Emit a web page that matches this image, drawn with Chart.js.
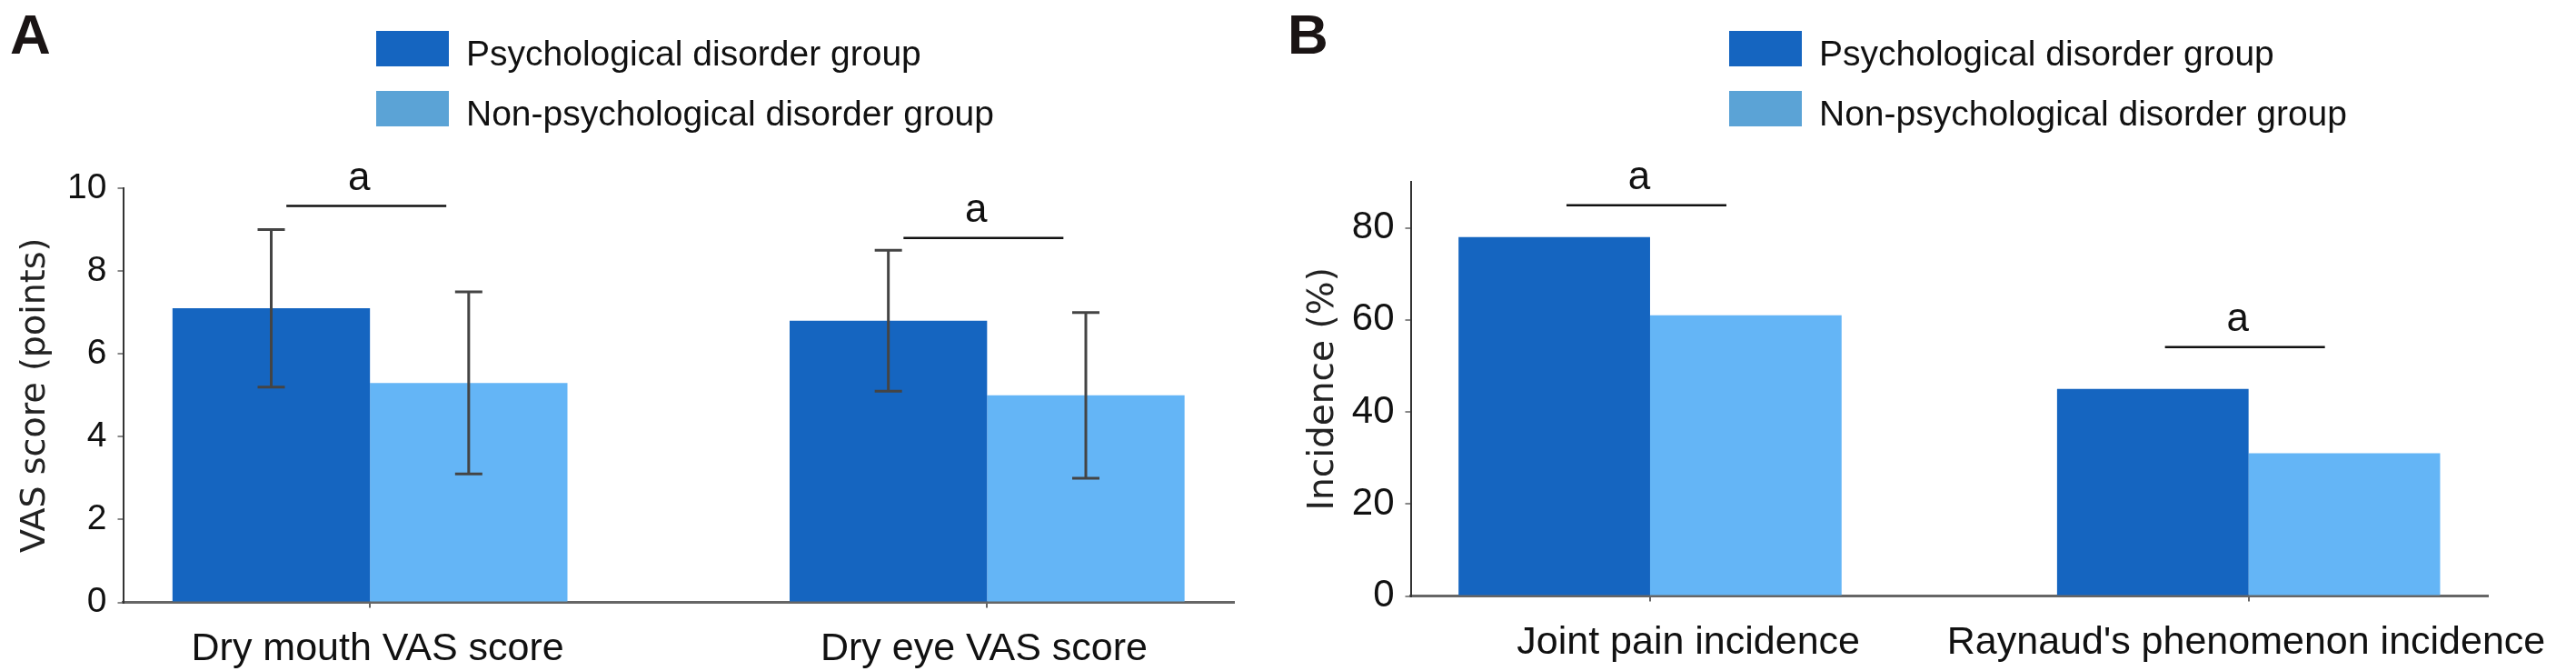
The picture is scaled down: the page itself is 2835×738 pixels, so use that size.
<!DOCTYPE html>
<html>
<head>
<meta charset="utf-8">
<script src="https://cdn.jsdelivr.net/npm/chart.js@4.4.0/dist/chart.umd.min.js"></script>
<style>
  html, body { margin: 0; padding: 0; background: #fff; overflow: hidden; }
  #wrap { position: relative; width: 2835px; height: 738px; }
  canvas { position: absolute; top: 0; }
</style>
</head>
<body>
<div id="wrap">
  <canvas id="chartA" width="1417" height="738" style="left:0"></canvas>
  <canvas id="chartB" width="1418" height="738" style="left:1417px"></canvas>
</div>
<script>
// series names
const seriesNames = ['Psychological disorder group', 'Non-psychological disorder group'];

// panel A - VAS scores (mean +/- sd)
const categoriesA = ['Dry mouth VAS score', 'Dry eye VAS score'];
const psychA = [7.1, 6.8];
const nonPsychA = [5.3, 5.0];
const psychHighA = [9.0, 8.5];
const psychLowA = [5.2, 5.1];
const nonPsychHighA = [7.5, 7.0];
const nonPsychLowA = [3.1, 3.0];
const sigLevelA = [9.57, 8.8];
const yTicksA = [0, 2, 4, 6, 8, 10];

// panel B - incidence (%)
const categoriesB = ['Joint pain incidence', "Raynaud's phenomenon incidence"];
const psychB = [78, 45];
const nonPsychB = [61, 31];
const sigLevelB = [84.9, 54.1];
const yTicksB = [0, 20, 40, 60, 80];

const darkBlue = '#1565C0';
const lightBlue = '#64B5F6';
const legendColors = ['#1565C0', '#5BA3D6'];

Chart.defaults.font.family = '"Liberation Sans", Arial, sans-serif';
Chart.defaults.color = '#111';

function makePanel(id, cfg) {
  // legend, panel letter, error bars and significance marks
  const deco = {
    id: 'deco' + id,
    afterDatasetsDraw(chart) {
      const ctx = chart.ctx;
      const y = chart.scales.y;
      const x = chart.scales.x;
      ctx.save();
      // error bars
      if (cfg.errors) {
        cfg.errors.forEach((err, d) => {
          const meta = chart.getDatasetMeta(d);
          meta.data.forEach((bar, i) => {
            const top = y.getPixelForValue(err.high[i]);
            const bot = y.getPixelForValue(err.low[i]);
            ctx.strokeStyle = '#444';
            ctx.lineWidth = 3;
            ctx.beginPath();
            ctx.moveTo(bar.x, top);
            ctx.lineTo(bar.x, bot);
            ctx.moveTo(bar.x - 15, top);
            ctx.lineTo(bar.x + 15, top);
            ctx.moveTo(bar.x - 15, bot);
            ctx.lineTo(bar.x + 15, bot);
            ctx.stroke();
          });
        });
      }
      // significance marks
      cfg.sig.forEach((lvl, i) => {
        const cx = x.getPixelForValue(i + 1) - 4;
        const yy = y.getPixelForValue(lvl);
        ctx.strokeStyle = '#111';
        ctx.lineWidth = 2.5;
        ctx.beginPath();
        ctx.moveTo(cx - 88, yy);
        ctx.lineTo(cx + 88, yy);
        ctx.stroke();
        ctx.fillStyle = '#111';
        ctx.font = '44px "Liberation Sans", Arial, sans-serif';
        ctx.textAlign = 'center';
        ctx.textBaseline = 'alphabetic';
        ctx.fillText('a', cx - 8, yy - 18);
      });
      ctx.restore();
    },
    afterDraw(chart) {
      const ctx = chart.ctx;
      ctx.save();
      // panel letter
      ctx.fillStyle = '#1a1414';
      ctx.font = 'bold 62px "Liberation Sans", Arial, sans-serif';
      ctx.textAlign = 'left';
      ctx.textBaseline = 'alphabetic';
      ctx.fillText(cfg.letter, cfg.letterX, 59);
      // legend
      ctx.font = '39px "Liberation Sans", Arial, sans-serif';
      chart.data.datasets.forEach((ds, d) => {
        const top = 34 + d * 66;
        ctx.fillStyle = legendColors[d];
        ctx.fillRect(cfg.legendX, top, 80, 39);
        ctx.fillStyle = '#111';
        ctx.fillText(ds.label, cfg.legendX + 99, top + 38);
      });
      ctx.restore();
    }
  };

  return new Chart(document.getElementById(id), {
    type: 'bar',
    data: {
      datasets: [
        {
          label: seriesNames[0],
          data: cfg.psych.map((v, i) => ({ x: i + 1, y: v })),
          backgroundColor: darkBlue,
          borderWidth: 0
        },
        {
          label: seriesNames[1],
          data: cfg.nonPsych.map((v, i) => ({ x: i + 1, y: v })),
          backgroundColor: lightBlue,
          borderWidth: 0
        }
      ]
    },
    options: {
      responsive: false,
      animation: false,
      devicePixelRatio: 1,
      categoryPercentage: 0.64,
      barPercentage: 1.0,
      layout: { padding: { top: cfg.top, right: cfg.right, bottom: 0, left: 0 } },
      plugins: {
        legend: { display: false },
        tooltip: { enabled: false }
      },
      scales: {
        // axis line and tick marks at group centres
        x: {
          type: 'linear',
          position: 'bottom',
          min: 0.6,
          max: 2.4,
          offset: false,
          bounds: 'data',
          afterBuildTicks: (scale) => {
            scale.ticks = cfg.categories.map((c, i) => ({ value: i + 1 }));
          },
          afterFit: (scale) => { scale.height = 6; },
          ticks: { display: false },
          grid: { offset: false, drawOnChartArea: false, tickLength: 6, color: '#666', lineWidth: 2 },
          border: { color: '#666', width: 3 }
        },
        // category labels, nudged like the original
        xl: {
          type: 'linear',
          position: 'bottom',
          min: 0.6,
          max: 2.4,
          offset: false,
          bounds: 'data',
          afterBuildTicks: (scale) => {
            scale.ticks = cfg.categories.map((c, i) => ({ value: i + 1 + cfg.labelShift[i] }));
          },
          afterFit: (scale) => { scale.height = 738 - cfg.bottom - 6; },
          ticks: {
            autoSkip: false,
            maxRotation: 0,
            padding: 12,
            font: { size: 43 },
            color: '#111',
            callback: (v, i) => cfg.categories[i]
          },
          grid: { display: false },
          border: { display: false }
        },
        y: {
          min: 0,
          max: cfg.yMax,
          bounds: 'data',
          afterBuildTicks: (scale) => {
            scale.ticks = cfg.yTicks.map(v => ({ value: v }));
          },
          afterFit: (scale) => { scale.width = 135.5; },
          ticks: {
            padding: 12,
            font: { size: cfg.tickSize },
            color: '#111'
          },
          grid: { drawOnChartArea: false, tickLength: 6, color: '#888', lineWidth: 2 },
          border: { color: '#333', width: 2 },
          title: {
            display: true,
            text: cfg.yTitle,
            color: '#222',
            font: { family: '"DejaVu Sans", Verdana, sans-serif', size: cfg.titleSize },
            padding: { top: 16, bottom: 0 }
          }
        }
      }
    },
    plugins: [deco]
  });
}

makePanel('chartA', {
  letter: 'A', letterX: 11, legendX: 414,
  categories: categoriesA, psych: psychA, nonPsych: nonPsychA,
  errors: [
    { high: psychHighA, low: psychLowA },
    { high: nonPsychHighA, low: nonPsychLowA }
  ],
  sig: sigLevelA, yMax: 10, yTicks: yTicksA,
  yTitle: 'VAS score (points)', titleSize: 38, tickSize: 39,
  labelShift: [0.0125, -0.005],
  top: 207, right: 59, bottom: 662.6
});

makePanel('chartB', {
  letter: 'B', letterX: 0, legendX: 486,
  categories: categoriesB, psych: psychB, nonPsych: nonPsychB,
  errors: null,
  sig: sigLevelB, yMax: 90, yTicks: yTicksB,
  yTitle: 'Incidence (%)', titleSize: 39, tickSize: 42,
  labelShift: [0.064, -0.004],
  top: 200, right: 69.3, bottom: 655.5
});
</script>
</body>
</html>
